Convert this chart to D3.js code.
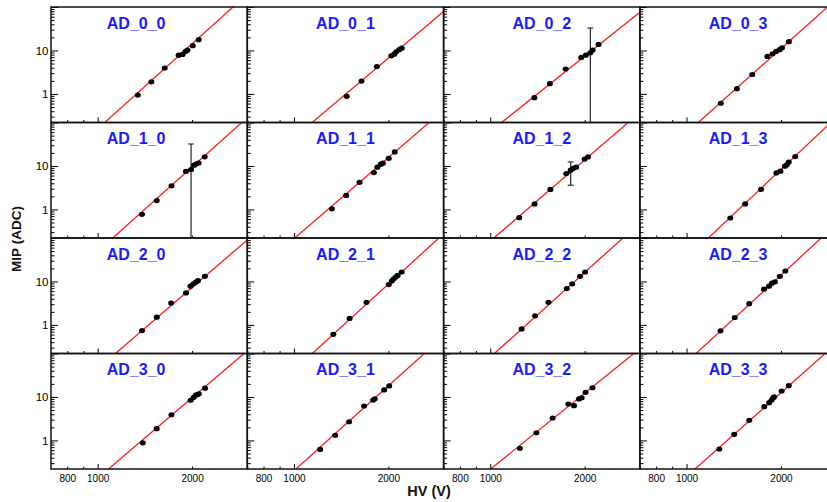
<!DOCTYPE html>
<html>
<head>
<meta charset="utf-8">
<script src="https://cdn.jsdelivr.net/npm/d3@7"></script>
<style>
  body { margin: 0; background: #fff; }
  svg { display: block; font-family: "Liberation Sans", Arial, Helvetica, sans-serif; }
</style>
</head>
<body>
<svg id="chart" width="827" height="502"></svg>
<script>
// HV (V) and MIP (ADC) per channel (AD_0_0 ... AD_3_3)
const panelNames = ['AD_0_0', 'AD_0_1', 'AD_0_2', 'AD_0_3',
                    'AD_1_0', 'AD_1_1', 'AD_1_2', 'AD_1_3',
                    'AD_2_0', 'AD_2_1', 'AD_2_2', 'AD_2_3',
                    'AD_3_0', 'AD_3_1', 'AD_3_2', 'AD_3_3'];

const hvValues = [
    [1343, 1483, 1636, 1812, 1865, 1906, 1934, 2010, 2100],
    [1473, 1642, 1838, 2043, 2088, 2118, 2165, 2205],
    [1382, 1549, 1739, 1950, 2017, 2085, 2120, 2215],
    [1286, 1447, 1620, 1810, 1880, 1930, 1980, 2015, 2120],
    [1385, 1543, 1720, 1912, 1985, 2030, 2068, 2098, 2195],
    [1321, 1467, 1618, 1798, 1845, 1892, 1920, 2006, 2096],
    [1237, 1385, 1555, 1747, 1805, 1840, 1878, 1999, 2050],
    [1379, 1538, 1728, 1934, 1991, 2058, 2088, 2118, 2221],
    [1385, 1544, 1715, 1913, 1977, 2020, 2058, 2088, 2197],
    [1335, 1505, 1703, 2006, 2050, 2080, 2111, 2141, 2205],
    [1259, 1390, 1533, 1754, 1825, 1934, 2006],
    [1283, 1425, 1584, 1766, 1831, 1872, 1913, 1984, 2065],
    [1393, 1543, 1719, 1980, 2025, 2055, 2080, 2102, 2200],
    [1212, 1353, 1499, 1674, 1788, 1810, 1939, 2012],
    [1243, 1403, 1581, 1774, 1849, 1918, 1957, 2014, 2118],
    [1272, 1419, 1584, 1769, 1834, 1867, 1889, 1903, 2010, 2118]
];

const mipValues = [
    [0.94, 1.9, 3.95, 7.8, 8.1, 9.5, 10.2, 12.9, 17.7],
    [0.88, 1.97, 4.25, 7.52, 8.22, 9.3, 10.4, 11.3],
    [0.82, 1.72, 3.74, 6.9, 7.8, 8.8, 10.2, 13.8],
    [0.61, 1.32, 2.8, 7.3, 8.4, 9.5, 10.4, 11.5, 15.9],
    [0.77, 1.6, 3.5, 7.5, 8.3, 10.4, 11.2, 11.7, 16.2],
    [1.03, 2.1, 4.2, 7.06, 9.4, 11.0, 11.6, 15.0, 21.0],
    [0.646, 1.34, 2.89, 6.7, 8.0, 8.8, 9.4, 14.4, 16.1],
    [0.634, 1.34, 2.89, 6.9, 7.6, 9.9, 10.6, 12.3, 16.4],
    [0.74, 1.51, 3.19, 5.46, 7.8, 8.8, 9.7, 10.4, 13.1],
    [0.607, 1.41, 3.31, 8.5, 10.2, 11.5, 12.6, 13.8, 16.5],
    [0.81, 1.62, 3.31, 6.87, 8.83, 13.1, 16.5],
    [0.73, 1.48, 3.08, 6.63, 7.8, 9.15, 9.8, 13.1, 17.4],
    [0.88, 1.86, 3.9, 8.4, 9.8, 11.0, 11.4, 11.8, 15.9],
    [0.62, 1.31, 2.69, 6.2, 8.5, 9.1, 14.5, 17.9],
    [0.66, 1.5, 3.28, 6.89, 6.3, 9.0, 9.6, 12.8, 16.3],
    [0.634, 1.38, 2.9, 5.97, 7.4, 8.5, 9.6, 10.1, 13.7, 18.2]
];

// power-law fit MIP = (HV / fitHV1) ^ fitSlope
const fitHV1 = [1330, 1465, 1414, 1378, 1412, 1284, 1310, 1466,
                1454, 1440, 1302, 1346, 1385, 1281, 1301, 1348];
const fitSlope = [6.5, 6.1, 5.76, 6.45, 6.46, 6.2, 6.2, 6.8,
                  6.22, 6.58, 6.48, 6.66, 6.15, 6.49, 5.82, 6.4];

// the few visible error bars
const errPanel = [2, 4, 6];
const errPoint = [5, 4, 4];
const errHigh = [33, 32, 12.3];
const errLow = [0.05, 0.05, 3.6];

const xTickLabels = [800, 1000, 2000];
const xMinorTicks = [800, 900, 2000, 3000];
const xMajorTicks = [1000];
const yTickLabels = [1, 10];

const svg = d3.select('#chart');
svg.append('rect').attr('width', 827).attr('height', 502).attr('fill', '#fff');

const left0 = 51, top0 = 7;
const panelW = 196.3, panelH = 115.5;

const x = d3.scaleLog().domain([710, 3000]).range([0, panelW]);
const y = d3.scaleLog().domain([0.22, 100]).range([panelH, 0]);

const yAll = y.ticks();
const yMajor = yAll.filter(v => Math.abs(Math.log10(v) - Math.round(Math.log10(v))) < 1e-9);
const yMinor = yAll.filter(v => !yMajor.includes(v));

const fitLine = d3.line().x(d => x(d[0])).y(d => y(d[1]));

panelNames.forEach((name, i) => {
    const row = Math.floor(i / 4), col = i % 4;
    const g = svg.append('g')
        .attr('transform', `translate(${left0 + col * panelW},${top0 + row * panelH})`);

    g.append('clipPath').attr('id', 'clip' + i)
        .append('rect').attr('width', panelW).attr('height', panelH);

    const inner = g.append('g').attr('clip-path', `url(#clip${i})`);

    // fit line across the whole x range
    const fitPts = x.domain().map(v => [v, Math.pow(v / fitHV1[i], fitSlope[i])]);
    inner.append('path')
        .attr('d', fitLine(fitPts))
        .attr('fill', 'none')
        .attr('stroke', '#ff1a1a')
        .attr('stroke-width', 1.3);

    // error bars
    errPanel.forEach((p, k) => {
        if (p !== i) return;
        const xe = x(hvValues[i][errPoint[k]]);
        inner.append('line')
            .attr('x1', xe).attr('x2', xe)
            .attr('y1', y(errHigh[k])).attr('y2', Math.min(y(errLow[k]), panelH + 5))
            .attr('stroke', '#111').attr('stroke-width', 1.1);
        [errHigh[k], errLow[k]].forEach(v => {
            if (y(v) > panelH) return;
            inner.append('line')
                .attr('x1', xe - 3).attr('x2', xe + 3)
                .attr('y1', y(v)).attr('y2', y(v))
                .attr('stroke', '#111').attr('stroke-width', 1.1);
        });
    });

    // data points
    inner.selectAll('ellipse')
        .data(hvValues[i].map((v, k) => [v, mipValues[i][k]]))
        .enter()
        .append('ellipse')
        .attr('cx', d => x(d[0]))
        .attr('cy', d => y(d[1]))
        .attr('rx', 3)
        .attr('ry', 2.6)
        .attr('fill', '#000');

    // ticks, pointing inside the frame
    const yMinAx = g.append('g').call(d3.axisRight(y).tickValues(yMinor).tickSize(3.5).tickFormat(''));
    const yMajAx = g.append('g').call(d3.axisRight(y).tickValues(yMajor).tickSize(7).tickFormat(''));
    const xMinAx = g.append('g').attr('transform', `translate(0,${panelH})`)
        .call(d3.axisTop(x).tickValues(xMinorTicks).tickSize(2.5).tickFormat(''));
    const xMajAx = g.append('g').attr('transform', `translate(0,${panelH})`)
        .call(d3.axisTop(x).tickValues(xMajorTicks).tickSize(5).tickFormat(''));
    [yMinAx, yMajAx, xMinAx, xMajAx].forEach(a => {
        a.select('.domain').remove();
        a.selectAll('line').attr('stroke', '#000');
    });

    // frame
    g.append('rect')
        .attr('width', panelW).attr('height', panelH)
        .attr('fill', 'none')
        .attr('stroke', '#111')
        .attr('stroke-width', 1.5);

    // tick labels on the outer panels only
    if (col === 0) {
        const ax = g.append('g')
            .call(d3.axisLeft(y).tickValues(yTickLabels).tickSize(0).tickPadding(2.5).tickFormat(d3.format('d')));
        ax.select('.domain').remove();
        ax.selectAll('text').attr('font-size', 11.5).attr('fill', '#000')
            .attr('font-family', '"Liberation Sans", Arial, sans-serif');
    }
    if (row === 3) {
        const ax = g.append('g').attr('transform', `translate(0,${panelH})`)
            .call(d3.axisBottom(x).tickValues(xTickLabels).tickSize(0).tickPadding(5.5).tickFormat(d3.format('d')));
        ax.select('.domain').remove();
        ax.selectAll('text').attr('font-size', 10).attr('fill', '#000')
            .attr('font-family', '"Liberation Sans", Arial, sans-serif');
    }

    // panel title
    g.append('text')
        .attr('x', col === 0 ? panelW / 2 - 13 : panelW / 2)
        .attr('y', 21.5)
        .attr('text-anchor', 'middle')
        .attr('font-size', 16)
        .attr('font-weight', 'bold')
        .attr('fill', '#1a1aff')
        .text(name);
});

// axis titles
svg.append('text')
    .attr('x', 429).attr('y', 496)
    .attr('text-anchor', 'middle')
    .attr('font-size', 14.5)
    .attr('font-weight', 'bold')
    .attr('fill', '#111')
    .text('HV (V)');

svg.append('text')
    .attr('transform', 'translate(21,239) rotate(-90)')
    .attr('text-anchor', 'middle')
    .attr('font-size', 13.5)
    .attr('font-weight', 'bold')
    .attr('fill', '#111')
    .text('MIP (ADC)');
</script>
</body>
</html>
